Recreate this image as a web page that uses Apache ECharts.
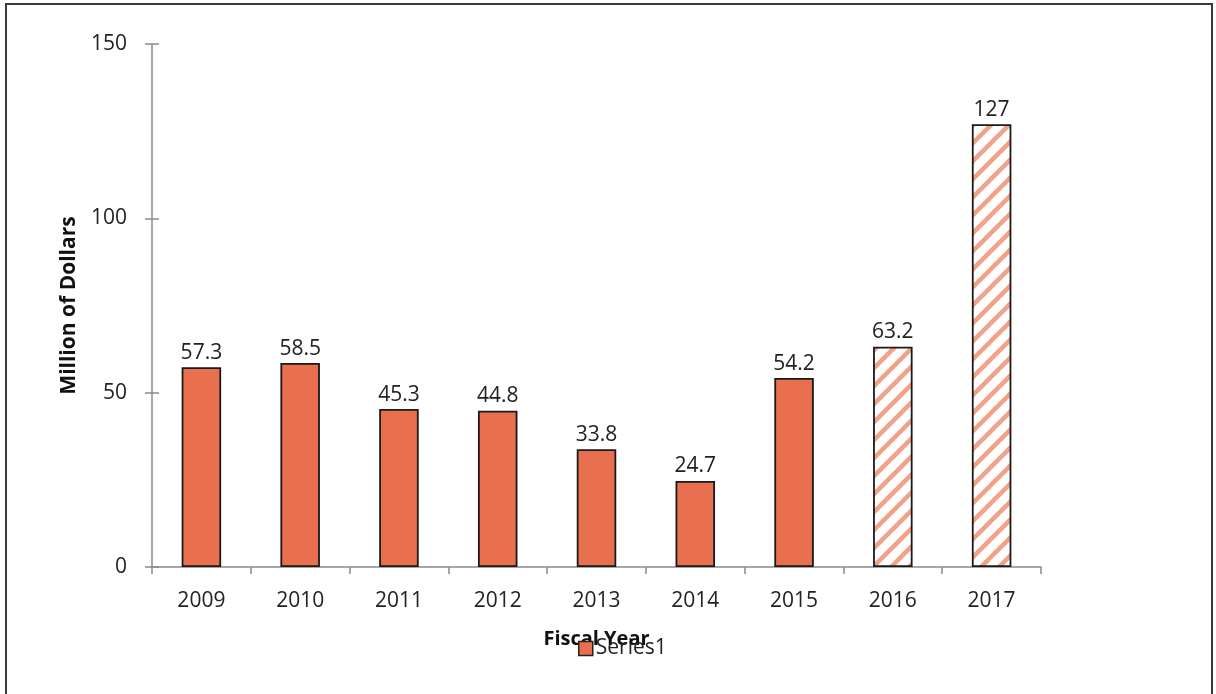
<!DOCTYPE html>
<html>
<head>
<meta charset="utf-8">
<script src="https://cdn.jsdelivr.net/npm/echarts@6/dist/echarts.min.js"></script>
<style>
html,body{margin:0;padding:0;background:#fff;}
#chart{width:1216px;height:694px;}
</style>
</head>
<body>
<div id="chart"></div>
<script>
const categories = ['2009','2010','2011','2012','2013','2014','2015','2016','2017'];
const values = [57.3, 58.5, 45.3, 44.8, 33.8, 24.7, 54.2, 63.2, 127];
const projected = [false, false, false, false, false, false, false, true, true];
const yTicks = [0, 50, 100, 150];
const seriesName = 'Series1';

const FONT = 'Open Sans';
const BAR = '#E8704E';

function makeHatch() {
  const s = 18;
  const c = document.createElement('canvas');
  c.width = s; c.height = s;
  const ctx = c.getContext('2d');
  ctx.fillStyle = '#ffffff';
  ctx.fillRect(0, 0, s, s);
  ctx.strokeStyle = '#F2A28B';
  ctx.lineWidth = 4.5;
  [0, s, 2 * s].forEach(cc => {
    ctx.beginPath();
    ctx.moveTo(-3, cc + 3);
    ctx.lineTo(cc + 3, -3);
    ctx.stroke();
  });
  return c;
}
const hatch = makeHatch();

const chart = echarts.init(document.getElementById('chart'));
const data = values.map((v, i) => projected[i]
  ? { value: v, itemStyle: { color: { image: hatch, repeat: 'repeat' } } }
  : v);

chart.setOption({
  animation: false,
  backgroundColor: '#fff',
  textStyle: { fontFamily: FONT },
  grid: { left: 152, right: 175, top: 44, bottom: 127 },
  legend: {
    data: [seriesName],
    left: 573, top: 633,
    itemWidth: 14, itemHeight: 14, itemGap: 4,
    icon: 'rect',
    textStyle: { fontFamily: FONT, fontSize: 21, color: '#222', padding: [0, 0, 0, -2] },
    itemStyle: { borderColor: '#222', borderWidth: 1.5 }
  },
  xAxis: {
    type: 'category',
    data: categories,
    name: 'Fiscal Year',
    nameLocation: 'middle',
    nameGap: 62,
    nameTextStyle: { fontFamily: FONT, fontSize: 20, fontWeight: 'bold', color: '#111', verticalAlign: 'top' },
    axisLine: { lineStyle: { color: '#8a8a8a', width: 1.5 } },
    axisTick: { show: true, length: 7, lineStyle: { color: '#8a8a8a', width: 1.5 } },
    axisLabel: { fontFamily: FONT, fontSize: 21, color: '#222', margin: 24 }
  },
  yAxis: [{
    type: 'value',
    min: 0, max: 150, interval: 50,
    name: 'Million of Dollars',
    nameLocation: 'middle',
    nameGap: 72,
    nameTextStyle: { fontFamily: FONT, fontSize: 21, fontWeight: 'bold', color: '#111' },
    axisLine: { show: true, lineStyle: { color: '#8a8a8a', width: 1.5 } },
    axisTick: { show: true, length: 7, lineStyle: { color: '#8a8a8a', width: 1.5 } },
    axisLabel: { fontFamily: FONT, fontSize: 21, color: '#222', margin: 25,
      formatter: v => yTicks.includes(v) ? String(v) : '' },
    splitLine: { show: false }
  }, {
    type: 'value',
    position: 'left',
    min: 0, max: 150, interval: 50,
    axisLine: { show: false },
    axisTick: { show: true, inside: true, length: 7, lineStyle: { color: '#8a8a8a', width: 1.5 } },
    axisLabel: { show: false },
    splitLine: { show: false }
  }],
  series: [{
    name: seriesName,
    type: 'bar',
    data: data,
    barWidth: '40%',
    itemStyle: { color: BAR, borderColor: '#1a1a1a', borderWidth: 1.8 },
    label: { show: true, position: 'top', distance: 4, fontFamily: FONT, fontSize: 21, color: '#222' }
  }],
  graphic: [{
    type: 'rect',
    shape: { x: 6, y: 4, width: 1206, height: 720 },
    style: { fill: 'none', stroke: '#3a3a3a', lineWidth: 2 },
    silent: true
  }]
});
</script>
</body>
</html>
